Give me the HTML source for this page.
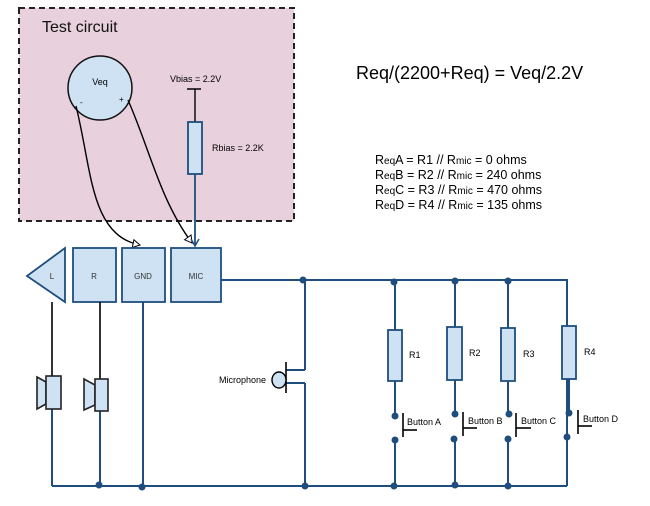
<!DOCTYPE html>
<html><head><meta charset="utf-8"><style>
body{margin:0;background:#fff;}
svg{display:block;font-family:"Liberation Sans",Arial,sans-serif;}
</style></head><body>
<svg width="650" height="506" viewBox="0 0 650 506" xmlns="http://www.w3.org/2000/svg">
<defs>
<marker id="ho" markerWidth="10" markerHeight="10" refX="8" refY="5" orient="auto" markerUnits="userSpaceOnUse">
<path d="M1,1 L8,5 L1,9 Z" fill="#fff" stroke="#000" stroke-width="1"/></marker>
<marker id="bl" markerWidth="10" markerHeight="10" refX="8" refY="5" orient="auto" markerUnits="userSpaceOnUse">
<path d="M1,1 L8,5 L1,9" fill="none" stroke="#1f4e7e" stroke-width="1.5"/></marker>
</defs>
<rect x="19" y="8" width="275" height="213" fill="#e8d0dc" stroke="#222" stroke-width="2" stroke-dasharray="6,4"/>
<text x="42" y="32" font-size="16" fill="#111">Test circuit</text>
<circle cx="100" cy="88" r="32" fill="#cfe2f3" stroke="#111" stroke-width="1.5"/>
<text x="100" y="85" font-size="9" text-anchor="middle">Veq</text>
<text x="80" y="105" font-size="8">-</text>
<text x="119" y="102" font-size="8">+</text>
<path d="M76,106 C92,170 90,235 140,245" fill="none" stroke="#000" stroke-width="1.4" marker-end="url(#ho)"/>
<path d="M128,100 C150,150 160,200 192,243" fill="none" stroke="#000" stroke-width="1.4" marker-end="url(#ho)"/>
<text x="170" y="82" font-size="9">Vbias = 2.2V</text>
<line x1="187" y1="89" x2="201" y2="89" stroke="#000" stroke-width="1.5"/>
<line x1="195" y1="89" x2="195" y2="122" stroke="#000" stroke-width="1.4"/>
<rect x="188" y="122" width="14" height="52" fill="#cfe2f3" stroke="#1f4e7e" stroke-width="1.8"/>
<text x="212" y="151" font-size="9">Rbias = 2.2K</text>
<line x1="195" y1="174" x2="195" y2="246" stroke="#1f4e7e" stroke-width="1.8" marker-end="url(#bl)"/>
<text x="356" y="79" font-size="18">Req/(2200+Req) = Veq/2.2V</text>
<g font-size="12.5">
<text x="375" y="164">R<tspan font-size="10">eq</tspan>A = R1 // R<tspan font-size="10">mic</tspan> = 0 ohms</text>
<text x="375" y="179">R<tspan font-size="10">eq</tspan>B = R2 // R<tspan font-size="10">mic</tspan> = 240 ohms</text>
<text x="375" y="194">R<tspan font-size="10">eq</tspan>C = R3 // R<tspan font-size="10">mic</tspan> = 470 ohms</text>
<text x="375" y="209">R<tspan font-size="10">eq</tspan>D = R4 // R<tspan font-size="10">mic</tspan> = 135 ohms</text>
</g>
<g fill="#cfe2f3" stroke="#1f4e7e" stroke-width="1.8">
<polygon points="27,276 65,248 65,302"/>
<rect x="73" y="248" width="43" height="54"/>
<rect x="122" y="248" width="43" height="54"/>
<rect x="171" y="248" width="50" height="54"/>
</g>
<g font-size="8" text-anchor="middle" fill="#333">
<text x="52" y="279">L</text><text x="94" y="279">R</text><text x="143" y="279">GND</text><text x="196" y="279">MIC</text>
</g>
<g stroke="#1f4e7e" stroke-width="2" fill="none">
<line x1="221" y1="280" x2="568" y2="280"/>
<line x1="567" y1="280" x2="567" y2="486"/>
<line x1="52" y1="486" x2="567" y2="486"/>
<line x1="143" y1="302" x2="143" y2="486"/>
<line x1="52" y1="409" x2="52" y2="486"/>
<line x1="100" y1="411" x2="100" y2="486"/>
<line x1="305" y1="280" x2="305" y2="370"/>
<line x1="305" y1="383" x2="305" y2="486"/>
<line x1="286" y1="370" x2="305" y2="370"/>
<line x1="286" y1="383" x2="305" y2="383"/>
<line x1="395" y1="280" x2="395" y2="330"/><line x1="395" y1="381" x2="395" y2="416"/><line x1="395" y1="440" x2="395" y2="486"/>
<line x1="455" y1="280" x2="455" y2="327"/><line x1="455" y1="380" x2="455" y2="414"/><line x1="455" y1="439" x2="455" y2="486"/>
<line x1="508" y1="280" x2="508" y2="328"/><line x1="508" y1="381" x2="508" y2="414"/><line x1="508" y1="439" x2="508" y2="486"/>
<line x1="569" y1="379" x2="569" y2="413"/><line x1="567" y1="437" x2="567" y2="486"/>
</g>
<g fill="#cfe2f3" stroke="#1f4e7e" stroke-width="1.8">
<rect x="388" y="330" width="14" height="51"/>
<rect x="447" y="327" width="15" height="53"/>
<rect x="501" y="328" width="14" height="53"/>
<rect x="562" y="326" width="14" height="53"/>
</g>
<g font-size="9"><text x="409" y="358">R1</text><text x="469" y="356">R2</text><text x="523" y="357">R3</text><text x="584" y="355">R4</text>
<text x="407" y="425">Button A</text><text x="468" y="424">Button B</text><text x="521" y="424">Button C</text><text x="583" y="422">Button D</text>
<text x="219" y="383">Microphone</text></g>
<g stroke="#000" stroke-width="1.6">
<line x1="403" y1="413" x2="403" y2="437"/><line x1="403" y1="430" x2="417" y2="430"/>
<line x1="463" y1="412" x2="463" y2="436"/><line x1="463" y1="428" x2="477" y2="428"/>
<line x1="516" y1="413" x2="516" y2="437"/><line x1="516" y1="428" x2="531" y2="428"/>
<line x1="578" y1="410" x2="578" y2="434"/><line x1="578" y1="426" x2="592" y2="426"/>
<line x1="286" y1="362" x2="286" y2="393"/>
<line x1="52" y1="302" x2="52" y2="376"/>
<line x1="100" y1="302" x2="100" y2="379"/>
</g>
<ellipse cx="279" cy="380" rx="7" ry="8" fill="#cfe2f3" stroke="#000" stroke-width="1.4"/>
<g fill="#cfe2f3" stroke="#222" stroke-width="1.6">
<polygon points="37,377 46,382 46,404 37,409"/>
<rect x="46" y="376" width="15" height="33"/>
<polygon points="84,379 95,385 95,405 84,410"/>
<rect x="95" y="379" width="13" height="32"/>
</g>
<g fill="#1f4e7e">
<circle cx="303" cy="280" r="3.5"/><circle cx="394" cy="282" r="3.5"/><circle cx="455" cy="281" r="3.5"/><circle cx="508" cy="281" r="3.5"/>
<circle cx="395" cy="416" r="3.5"/><circle cx="395" cy="440" r="3.5"/>
<circle cx="455" cy="414" r="3.5"/><circle cx="454" cy="439" r="3.5"/>
<circle cx="509" cy="414" r="3.5"/><circle cx="508" cy="439" r="3.5"/>
<circle cx="569" cy="413" r="3.5"/><circle cx="567" cy="437" r="3.5"/>
<circle cx="99" cy="485" r="3.5"/><circle cx="142" cy="487" r="3.5"/><circle cx="305" cy="486" r="3.5"/>
<circle cx="394" cy="486" r="3.5"/><circle cx="455" cy="485" r="3.5"/><circle cx="508" cy="486" r="3.5"/>
</g>
</svg>
</body></html>
